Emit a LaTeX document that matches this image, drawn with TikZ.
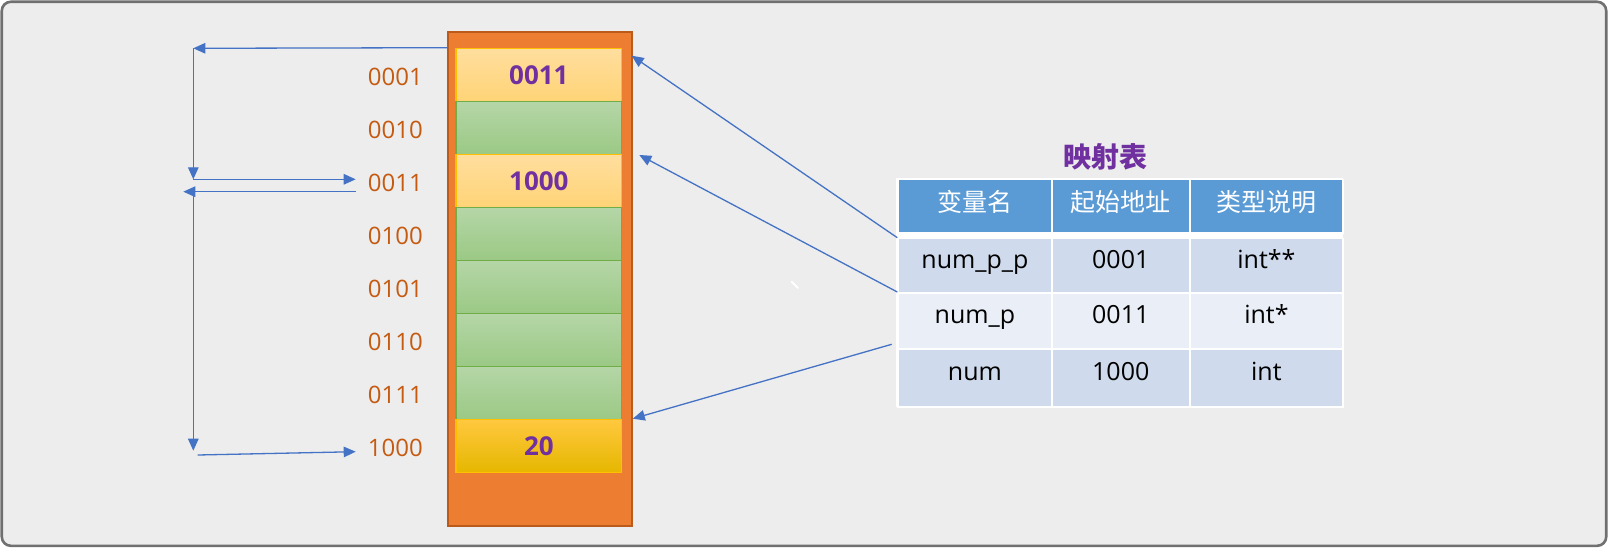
\documentclass[tikz,border=0pt]{standalone}
\usepackage{fontspec}
\setmainfont{Open Sans}
\newfontfamily\cjk{Noto Sans CJK SC}
\usetikzlibrary{arrows.meta}
\definecolor{bgc}{HTML}{EDEDED}
\definecolor{framec}{HTML}{707070}
\definecolor{memfill}{HTML}{ED7D31}
\definecolor{memdraw}{HTML}{BA5B1C}
\definecolor{ytop}{HTML}{FFDE9E}
\definecolor{ybot}{HTML}{FFD477}
\definecolor{ydraw}{HTML}{FFC000}
\definecolor{gtop}{HTML}{B5D6A7}
\definecolor{gbot}{HTML}{9BC985}
\definecolor{gdraw}{HTML}{70AD47}
\definecolor{otop}{HTML}{FFC83F}
\definecolor{omid}{HTML}{FFC700}
\definecolor{obot}{HTML}{E6B700}
\definecolor{addrc}{HTML}{C55A11}
\definecolor{valc}{HTML}{7030A0}
\definecolor{arrc}{HTML}{4472C4}
\definecolor{hdrc}{HTML}{5B9BD5}
\definecolor{rowa}{HTML}{CFDAEC}
\definecolor{rowb}{HTML}{E9EEF7}
\begin{document}
\begin{tikzpicture}[x=1pt,y=-1pt,
  mem/.style={draw=memdraw,fill=memfill,line width=2.2pt,minimum width=183.4pt,minimum height=494.3pt,inner sep=0pt},
  cellbase/.style={minimum width=165.7pt,minimum height=53pt,inner sep=0pt,line width=1.2pt,font=\fontsize{26}{30}\selectfont\bfseries,text=valc},
  ycell/.style={cellbase,draw=ydraw,top color=ytop,bottom color=ybot},
  gcell/.style={cellbase,draw=gdraw,top color=gtop,bottom color=gbot},
  ocell/.style={cellbase,draw=ydraw,top color=otop,middle color=omid,bottom color=obot},
  addr/.style={anchor=east,inner sep=0pt,text=addrc,font=\fontsize{24}{28}\selectfont},
  arr/.style={draw=arrc,line width=1.3pt,-{Triangle[length=12pt,width=10.5pt]}},
  tcell/.style={draw=white,line width=1.5pt,inner sep=0pt,anchor=north west},
  hcell/.style={tcell,fill=hdrc,text=white,minimum height=53.3pt,text height=20pt,text depth=10.3pt,font=\cjk\fontsize{25}{30}\selectfont},
  bcell/.style={tcell,text=black,text height=17pt,text depth=11.5pt,font=\fontsize{25}{30}\selectfont},
  colA/.style={minimum width=153.7pt},
  colB/.style={minimum width=138pt},
  colC/.style={minimum width=153.3pt},
  titlestyle/.style={inner sep=0pt,text=valc,font=\cjk\fontsize{28}{32}\selectfont\bfseries}
]
\useasboundingbox (0,0) rectangle (1609,548);
\fill[white] (0,0) rectangle (1609,548);
\draw[fill=bgc,draw=framec,line width=2.6pt,rounded corners=9pt] (1.8,1.8) rectangle (1606.2,545.8);
\draw[white,line width=2pt,line cap=round] (791.7,281.7) -- (798,288);

% memory block
\node[mem] (mem) at (540,278.85) {};
\node[ycell] (c1) at (538.85,74.8) {0011};
\node[gcell] (c2) at (538.85,127.8) {};
\node[ycell] (c3) at (538.85,180.8) {1000};
\node[gcell] (c4) at (538.85,233.8) {};
\node[gcell] (c5) at (538.85,286.8) {};
\node[gcell] (c6) at (538.85,339.8) {};
\node[gcell] (c7) at (538.85,392.8) {};
\node[ocell] (c8) at (538.85,445.8) {20};

% addresses
\node[addr] (a1) at (423,77.3) {0001};
\node[addr] (a2) at (423,130.3) {0010};
\node[addr] (a3) at (423,183.3) {0011};
\node[addr] (a4) at (423,236.3) {0100};
\node[addr] (a5) at (423,289.3) {0101};
\node[addr] (a6) at (423,342.3) {0110};
\node[addr] (a7) at (423,395.3) {0111};
\node[addr] (a8) at (423,448.3) {1000};

% table
\fill[white] (896.4,178.2) rectangle (1343.2,406.8);
\node[titlestyle] (title) at (1105,156.7) {映射表};
\node[hcell,colA] (h1) at (897.3,179) {变量名};
\node[hcell,colB] (h2) at (1051,179) {起始地址};
\node[hcell,colC] (h3) at (1189,179) {类型说明};
\node[bcell,colA,fill=rowa,minimum height=54.3pt] (t11) at (897.3,237.7) {num\_p\_p};
\node[bcell,colB,fill=rowa,minimum height=54.3pt] (t12) at (1051,237.7) {0001};
\node[bcell,colC,fill=rowa,minimum height=54.3pt] (t13) at (1189,237.7) {int**};
\node[bcell,colA,fill=rowb,minimum height=56.3pt] (t21) at (897.3,292) {num\_p};
\node[bcell,colB,fill=rowb,minimum height=56.3pt] (t22) at (1051,292) {0011};
\node[bcell,colC,fill=rowb,minimum height=56.3pt] (t23) at (1189,292) {int*};
\node[bcell,colA,fill=rowa,minimum height=57.7pt] (t31) at (897.3,348.3) {num};
\node[bcell,colB,fill=rowa,minimum height=57.7pt] (t32) at (1051,348.3) {1000};
\node[bcell,colC,fill=rowa,minimum height=57.7pt] (t33) at (1189,348.3) {int};

% left connectors
\coordinate (L1) at (193.3,48.3);
\coordinate (L2) at (193.3,179.3);
\coordinate (R3) at (355.7,179.3);
\coordinate (R4) at (355.7,191.7);
\coordinate (L4) at (183.3,191.7);
\coordinate (L5) at (193.3,191.7);
\coordinate (L6) at (193.3,450.7);
\coordinate (L7) at (197.7,455);
\coordinate (R7) at (355.7,451.7);
\draw[arr] (mem.west |- c1.north) -- (L1);
\draw[arr] (L1) -- (L2);
\draw[arr] (L2) -- (R3);
\draw[arr] (R4) -- (L4);
\draw[arr] (L5) -- (L6);
\draw[arr] (L7) -- (R7);

% right connectors
\coordinate (T1) at (631.7,55.7);
\coordinate (T2) at (639.3,155);
\coordinate (S3) at (891.7,344.3);
\draw[arr] (t11.north west) -- (T1);
\draw[arr] (t21.north west) -- (T2);
\draw[arr] (S3) -- (mem.east |- c8.north);
\end{tikzpicture}
\end{document}
